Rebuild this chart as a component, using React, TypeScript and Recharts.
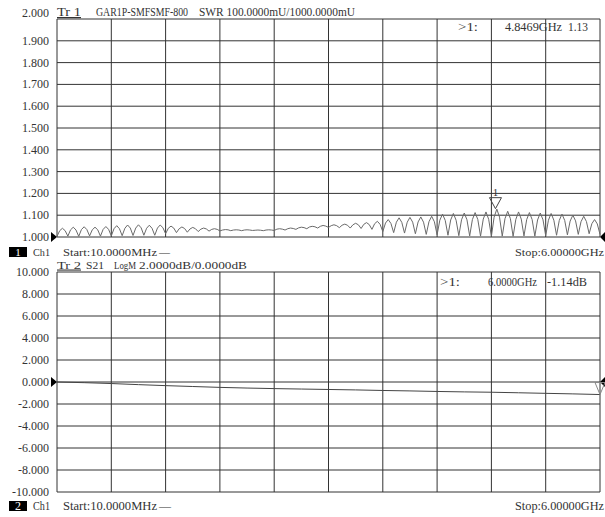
import {
  CartesianGrid,
  Line,
  LineChart,
  ReferenceDot,
  XAxis,
  YAxis,
} from 'recharts'

// SWR trace, read per ripple period as [cusp, rising shoulder, peak, falling shoulder]
const swrValues = [
  1.003, 1.029, 1.040, 1.029,
  1.004, 1.033, 1.045, 1.032,
  1.003, 1.034, 1.047, 1.034,
  1.005, 1.033, 1.045, 1.033,
  1.004, 1.035, 1.048, 1.035,
  1.005, 1.038, 1.052, 1.038,
  1.006, 1.040, 1.055, 1.041,
  1.007, 1.041, 1.056, 1.042,
  1.008, 1.040, 1.054, 1.040,
  1.008, 1.041, 1.055, 1.043,
  1.015, 1.040, 1.050, 1.041,
  1.020, 1.038, 1.046, 1.039,
  1.022, 1.037, 1.044, 1.038,
  1.025, 1.036, 1.041, 1.037,
  1.027, 1.035, 1.038, 1.035,
  1.028, 1.032, 1.034, 1.033,
  1.029, 1.032, 1.033, 1.032,
  1.029, 1.032, 1.033, 1.032,
  1.030, 1.031, 1.032, 1.031,
  1.029, 1.032, 1.033, 1.032,
  1.030, 1.036, 1.038, 1.036,
  1.032, 1.038, 1.041, 1.039,
  1.035, 1.042, 1.045, 1.043,
  1.038, 1.046, 1.049, 1.047,
  1.041, 1.049, 1.053, 1.050,
  1.044, 1.052, 1.056, 1.052,
  1.043, 1.054, 1.059, 1.054,
  1.041, 1.056, 1.063, 1.056,
  1.039, 1.058, 1.066, 1.057,
  1.035, 1.061, 1.072, 1.058,
  1.025, 1.064, 1.080, 1.062,
  1.020, 1.068, 1.088, 1.067,
  1.018, 1.068, 1.090, 1.068,
  1.015, 1.069, 1.092, 1.068,
  1.012, 1.070, 1.095, 1.070,
  1.010, 1.077, 1.105, 1.076,
  1.008, 1.078, 1.108, 1.077,
  1.006, 1.079, 1.110, 1.079,
  1.005, 1.080, 1.112, 1.080,
  1.004, 1.082, 1.115, 1.081,
  1.003, 1.091, 1.128, 1.091,
  1.004, 1.084, 1.118, 1.084,
  1.003, 1.081, 1.115, 1.082,
  1.005, 1.080, 1.112, 1.080,
  1.004, 1.078, 1.110, 1.079,
  1.006, 1.077, 1.108, 1.077,
  1.008, 1.076, 1.105, 1.076,
  1.010, 1.073, 1.100, 1.074,
  1.012, 1.070, 1.095, 1.071,
  1.015, 1.061, 1.080, 1.060,
  1.012,
]

// S21 (dB) every half division
const s21Values = [
  0.0, -0.06, -0.14, -0.24, -0.33, -0.41, -0.49, -0.55, -0.6, -0.64, -0.68,
  -0.72, -0.77, -0.81, -0.86, -0.9, -0.93, -0.98, -1.03, -1.08, -1.14,
]

const startGHz = 0.01
const stopGHz = 6.0
const xTicks = [0.01, 0.609, 1.208, 1.807, 2.406, 3.005, 3.604, 4.203, 4.802, 5.401, 6.0]
const swrTicks = [1.0, 1.1, 1.2, 1.3, 1.4, 1.5, 1.6, 1.7, 1.8, 1.9, 2.0]
const s21Ticks = [-10, -8, -6, -4, -2, 0, 2, 4, 6, 8, 10]

const marker1 = { f: 4.8469, swr: 1.13 }
const marker2 = { f: 6.0, s21: -1.14 }

const swrData = swrValues.map((v, i) => ({
  f: startGHz + (i * (stopGHz - startGHz)) / (swrValues.length - 1),
  swr: v,
}))
const s21Data = s21Values.map((v, i) => ({
  f: startGHz + (i * (stopGHz - startGHz)) / (s21Values.length - 1),
  s21: v,
}))

const font = '"Liberation Serif", serif'
const ink = '#333'

const YTick = ({ x, y, payload, top }: any) => (
  <text
    x={x}
    y={y + (payload.value === top ? -6 : 0)}
    dy={4}
    textAnchor="end"
    fontFamily={font}
    fontSize={12}
    fill={ink}
  >
    {Number(payload.value).toFixed(3)}
  </text>
)

const leftLevel = ({ cx, cy }: any) => (
  <polygon points={`${cx - 6},${cy - 5} ${cx - 6},${cy + 5} ${cx},${cy}`} fill="#000" />
)
const rightLevel = ({ cx, cy }: any) => (
  <polygon points={`${cx + 5},${cy - 5} ${cx + 5},${cy + 5} ${cx},${cy}`} fill="#000" />
)
const markerShape = ({ cx, cy }: any) => (
  <g>
    <polygon
      points={`${cx - 6},${cy - 11} ${cx + 6},${cy - 11} ${cx},${cy}`}
      fill="none"
      stroke="#444"
    />
    <text x={cx} y={cy - 13} textAnchor="middle" fontFamily={font} fontSize={11} fill={ink}>
      1
    </text>
  </g>
)
const endMarkerShape = ({ cx, cy }: any) => (
  <polygon
    points={`${cx - 5},${cy - 12} ${cx + 5},${cy - 12} ${cx},${cy}`}
    fill="none"
    stroke="#888"
  />
)

const T = ({ x, y, children, anchor = 'start', fill = ink, len, u, size = 12 }: any) => (
  <text
    x={x}
    y={y}
    textAnchor={anchor}
    fontFamily={font}
    fontSize={size}
    fill={fill}
    textLength={len}
    lengthAdjust={len ? 'spacingAndGlyphs' : undefined}
    style={u ? { textDecoration: 'underline' } : undefined}
  >
    {children}
  </text>
)

export default function App() {
  return (
    <div style={{ position: 'absolute', left: 0, top: 0, width: 605, height: 517, background: '#fff' }}>
      <div style={{ position: 'absolute', left: 0, top: 0 }}>
        <LineChart
          width={605}
          height={252}
          data={swrData}
          margin={{ top: 19, right: 5, bottom: 15, left: 0 }}
        >
          <CartesianGrid stroke="#333" strokeWidth={1} />
          <XAxis dataKey="f" type="number" domain={[startGHz, stopGHz]} ticks={xTicks} hide />
          <YAxis
            type="number"
            domain={[1, 2]}
            ticks={swrTicks}
            width={57}
            axisLine={false}
            tickLine={false}
            interval={0}
            tick={<YTick top={2} />}
          />
          <Line
            type="linear"
            dataKey="swr"
            stroke="#6a6a6a"
            strokeWidth={1}
            dot={false}
            isAnimationActive={false}
          />
          <ReferenceDot x={startGHz} y={1} r={0} shape={leftLevel} />
          <ReferenceDot x={stopGHz} y={1} r={0} shape={rightLevel} />
          <ReferenceDot x={marker1.f} y={marker1.swr} r={0} shape={markerShape} />
        </LineChart>
      </div>
      <div style={{ position: 'absolute', left: 0, top: 252 }}>
        <LineChart
          width={605}
          height={265}
          data={s21Data}
          margin={{ top: 20, right: 5, bottom: 25, left: 0 }}
        >
          <CartesianGrid stroke="#333" strokeWidth={1} />
          <XAxis dataKey="f" type="number" domain={[startGHz, stopGHz]} ticks={xTicks} hide />
          <YAxis
            type="number"
            domain={[-10, 10]}
            ticks={s21Ticks}
            width={57}
            axisLine={false}
            tickLine={false}
            interval={0}
            tick={<YTick top={99} />}
          />
          <Line
            type="linear"
            dataKey="s21"
            stroke="#444"
            strokeWidth={1}
            dot={false}
            isAnimationActive={false}
          />
          <ReferenceDot x={startGHz} y={0} r={0} shape={leftLevel} />
          <ReferenceDot x={stopGHz} y={0} r={0} shape={rightLevel} />
          <ReferenceDot x={marker2.f} y={marker2.s21} r={0} shape={endMarkerShape} />
        </LineChart>
      </div>
      <svg
        width={605}
        height={517}
        style={{ position: 'absolute', left: 0, top: 0, pointerEvents: 'none' }}
      >
        <T x={57} y={16} len={24} u>Tr 1</T>
        <T x={96} y={16} len={92}>GAR1P-SMFSMF-800</T>
        <T x={199} y={16} len={156}>SWR 100.0000mU/1000.0000mU</T>
        <T x={458} y={31} len={20}>&gt;1:</T>
        <T x={505} y={31} len={57}>4.8469GHz</T>
        <T x={568} y={31} len={20}>1.13</T>

        <rect x={9} y={247} width={18} height={10} fill="#000" />
        <T x={18} y={256} anchor="middle" fill="#fff" size={11}>1</T>
        <T x={33} y={256} len={17} size={11}>Ch1</T>
        <T x={63} y={256} len={94} size={11}>Start:10.0000MHz</T>
        <T x={159} y={256} size={11}>—</T>
        <T x={515} y={256} len={89} size={11}>Stop:6.00000GHz</T>

        <T x={57} y={268.5} len={24} u size={11}>Tr 2</T>
        <T x={86} y={268.5} len={18} size={11}>S21</T>
        <T x={114} y={268.5} len={22} size={11}>LogM</T>
        <T x={139} y={268.5} len={108} size={11}>2.0000dB/0.0000dB</T>
        <T x={440} y={286} len={20}>&gt;1:</T>
        <T x={488} y={286} len={49}>6.0000GHz</T>
        <T x={547} y={286} len={40}>-1.14dB</T>

        <rect x={9} y={501} width={18} height={10} fill="#000" />
        <T x={18} y={510} anchor="middle" fill="#fff">2</T>
        <T x={33} y={510} len={17}>Ch1</T>
        <T x={63} y={510} len={94}>Start:10.0000MHz</T>
        <T x={159} y={510}>—</T>
        <T x={515} y={510} len={89}>Stop:6.00000GHz</T>
      </svg>
    </div>
  )
}
